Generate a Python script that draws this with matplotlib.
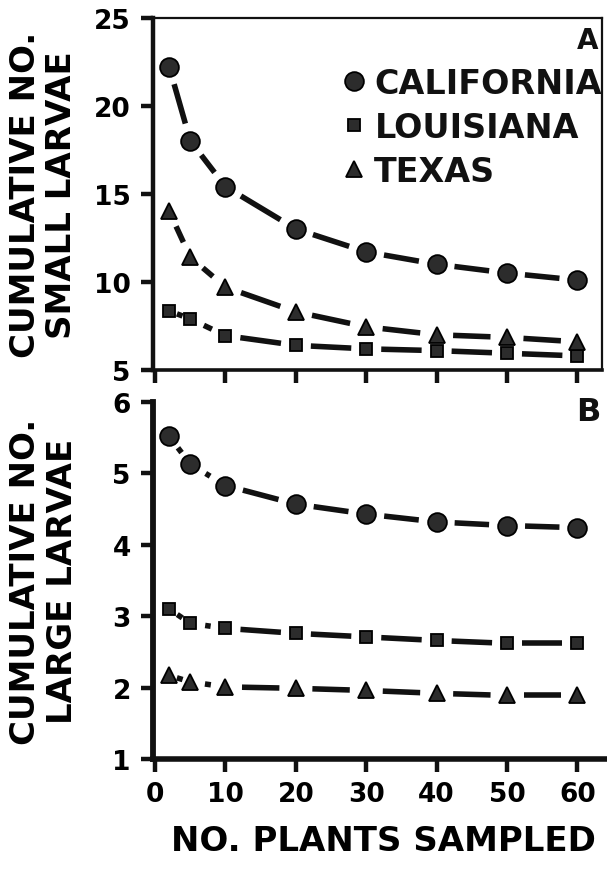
import matplotlib
matplotlib.use('Agg')
import numpy as np
import matplotlib.pyplot as plt
from matplotlib.lines import Line2D

# ---------------- data ----------------
plants = [2, 5, 10, 20, 30, 40, 50, 60]
states = ['CALIFORNIA', 'LOUISIANA', 'TEXAS']

small_california = [22.2, 18.0, 15.4, 13.0, 11.7, 11.0, 10.5, 10.1]
small_louisiana = [8.35, 7.9, 6.95, 6.4, 6.2, 6.1, 5.95, 5.8]
small_texas = [14.0, 11.4, 9.7, 8.3, 7.45, 7.0, 6.85, 6.6]

large_california = [5.52, 5.13, 4.83, 4.57, 4.43, 4.32, 4.27, 4.24]
large_louisiana = [3.1, 2.9, 2.83, 2.76, 2.71, 2.66, 2.62, 2.62]
large_texas = [2.17, 2.08, 2.01, 1.99, 1.96, 1.92, 1.89, 1.89]

small_yticks = [5, 10, 15, 20, 25]
large_yticks = [1, 2, 3, 4, 5, 6]
xticks = [0, 10, 20, 30, 40, 50, 60]

# ---------------- style ----------------
plt.rcParams['font.family'] = ['DejaVu Sans']
plt.rcParams['font.weight'] = 'bold'

INK = '#111111'
FACE = '#2c2c2c'
# marker, size (pt), gap from marker centre to dash end (px)
markers = {'CALIFORNIA': ('o', 13.5, 18.0),
           'LOUISIANA': ('s', 9.0, 15.0),
           'TEXAS': ('^', 12.0, 16.5)}

fig = plt.figure(figsize=(6.07, 8.70), dpi=100)
W, H = 607.0, 870.0
ax1 = fig.add_axes([153 / W, 1 - 371 / H, 449 / W, 352.5 / H])
ax2 = fig.add_axes([153 / W, 1 - 760 / H, 454 / W, 357 / H])

ax1.set_xlim(-0.3, 63.5)
ax1.set_ylim(5, 25)
ax2.set_xlim(-0.3, 64.2)
ax2.set_ylim(1, 6)


def draw(ax, y, state):
    m, ms, gap = markers[state]
    pts = ax.transData.transform(np.column_stack([plants, y]))
    inv = ax.transData.inverted()
    for p0, p1 in zip(pts[:-1], pts[1:]):
        d = p1 - p0
        L = np.hypot(*d)
        g = gap if L > 2 * gap + 4 else max(L / 2 - 3, 0)
        if g <= 0:
            continue
        u = d / L
        seg = inv.transform(np.vstack([p0 + u * g, p1 - u * g]))
        ax.plot(seg[:, 0], seg[:, 1], '-', color=INK, lw=4.0,
                solid_capstyle='butt', zorder=2)
    ax.plot(plants, y, ls='none', marker=m, ms=ms, mfc=FACE, mec='black',
            mew=1.3, zorder=4, clip_on=False)


draw(ax1, small_california, 'CALIFORNIA')
draw(ax1, small_louisiana, 'LOUISIANA')
draw(ax1, small_texas, 'TEXAS')

draw(ax2, large_california, 'CALIFORNIA')
draw(ax2, large_louisiana, 'LOUISIANA')
draw(ax2, large_texas, 'TEXAS')

# ---------------- axes ----------------
ax1.set_yticks(small_yticks)
ax2.set_yticks(large_yticks)
ax1.set_xticks(xticks)
ax2.set_xticks(xticks)
ax1.tick_params(axis='x', labelbottom=False)

for ax in (ax1, ax2):
    ax.tick_params(axis='both', direction='out', length=9, width=3.2,
                   color=INK, labelsize=19)
    ax.tick_params(axis='y', pad=7)
    ax.tick_params(axis='x', pad=7)
    for lab in ax.get_xticklabels() + ax.get_yticklabels():
        lab.set_fontweight('bold')

# spines
ax1.spines['left'].set_linewidth(3.2)
ax1.spines['bottom'].set_linewidth(2.6)
ax1.spines['top'].set_linewidth(1.6)
ax1.spines['right'].set_linewidth(1.6)
for s in ax1.spines.values():
    s.set_color(INK)

ax2.spines['left'].set_linewidth(4.2)
ax2.spines['bottom'].set_linewidth(4.0)
ax2.spines['top'].set_visible(False)
ax2.spines['right'].set_visible(False)
for s in ax2.spines.values():
    s.set_color(INK)

# labels
ax1.set_ylabel('CUMULATIVE NO.\nSMALL LARVAE', fontsize=24.5, fontweight='bold',
               linespacing=1.12)
ax2.set_ylabel('CUMULATIVE NO.\nLARGE LARVAE', fontsize=24.5, fontweight='bold',
               linespacing=1.12)
ax1.yaxis.set_label_coords(-0.166, 0.5)
ax2.yaxis.set_label_coords(-0.164, 0.5)

ax2.set_xlabel('NO. PLANTS SAMPLED', fontsize=24.5, fontweight='bold')
ax2.xaxis.set_label_coords(0.507, -0.182)

ax1.text(0.993, 0.935, 'A', transform=ax1.transAxes, ha='right', va='center',
         fontsize=20, fontweight='bold', color=INK)
ax2.text(0.985, 0.972, 'B', transform=ax2.transAxes, ha='right', va='center',
         fontsize=23, fontweight='bold', color=INK)

# legend
handles = []
for st in states:
    m, ms, _ = markers[st]
    handles.append(Line2D([], [], ls='none', marker=m, ms=ms, mfc=FACE,
                          mec='black', mew=1.3))
leg = ax1.legend(handles, states, loc='upper right', bbox_to_anchor=(1.0, 0.86),
                 frameon=False, fontsize=24, handlelength=0.6, handletextpad=0.3,
                 labelspacing=0.33, borderpad=0, borderaxespad=0)
for t in leg.get_texts():
    t.set_fontweight('bold')
    t.set_color(INK)

fig.savefig('out.png', dpi=100)
